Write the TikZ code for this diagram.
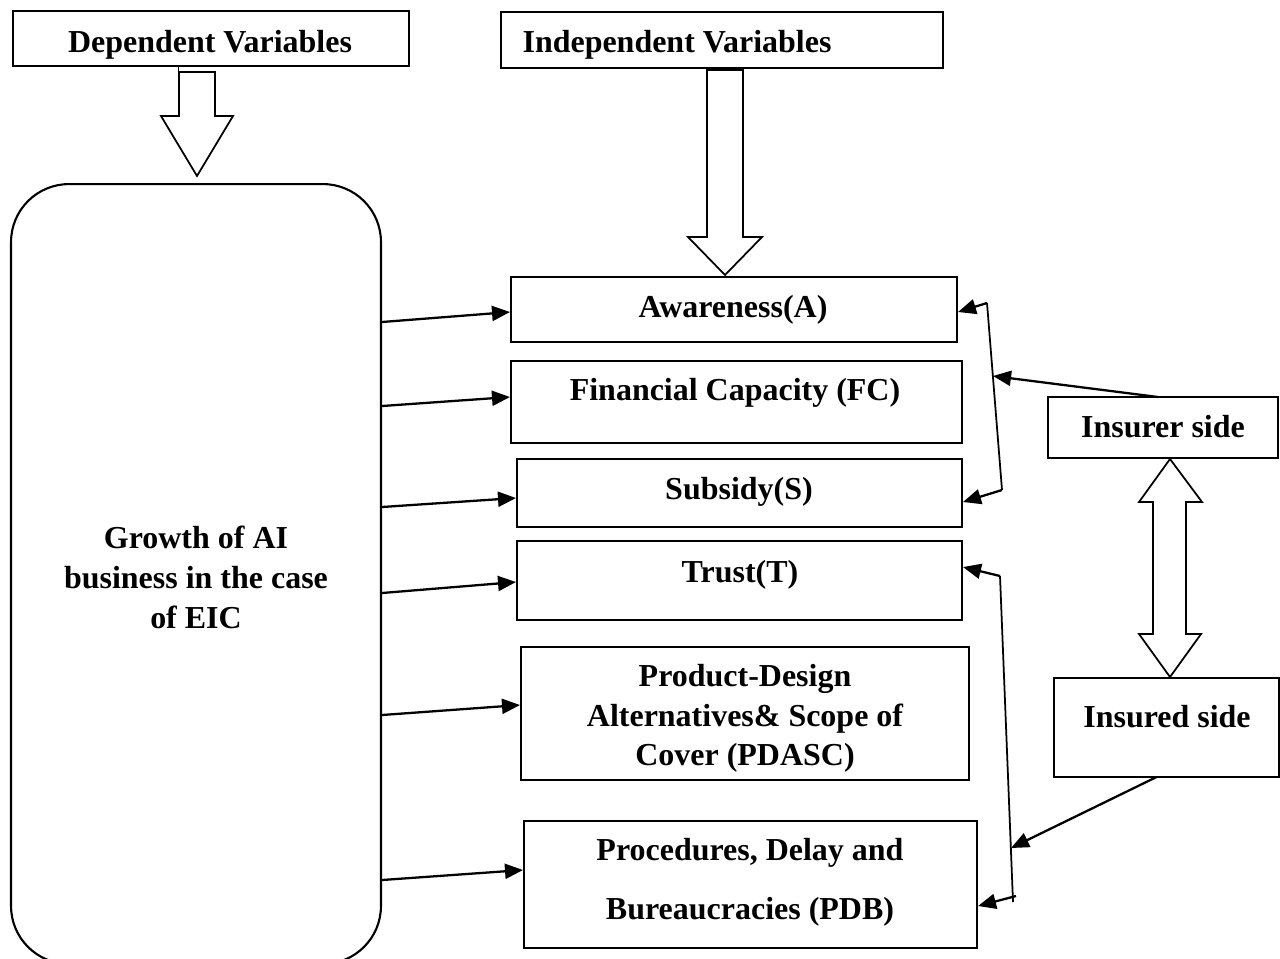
\documentclass[tikz,border=0pt]{standalone}
\usepackage{fontspec}
\setmainfont{Liberation Serif}
\usetikzlibrary{arrows.meta}
\begin{document}
\begin{tikzpicture}[x=0.02cm,y=-0.02cm,
  box/.style={draw,line width=1.2pt,inner sep=0pt,rectangle},
  txt/.style={inner sep=0pt,font=\bfseries\fontsize{18.2}{22.4}\selectfont,align=center},
  conn/.style={line width=1.3pt,-{Triangle[length=0.36cm,width=0.30cm]}},
  plainline/.style={line width=1pt},
  hollow/.style={draw,line width=1pt,fill=white,line join=miter}]
\useasboundingbox (0,0) rectangle (1280,958);

% boxes
\node[box,minimum width=7.92cm,minimum height=1.10cm] (dep) at (211,38.5) {};
\node[box,minimum width=8.84cm,minimum height=1.12cm] (ind) at (722,40) {};
\node[box,rounded corners=1.16cm,minimum width=7.40cm,minimum height=15.60cm] (gr) at (196,574) {};
\node[box,minimum width=8.92cm,minimum height=1.30cm] (aw) at (734,309.5) {};
\node[box,minimum width=9.02cm,minimum height=1.64cm] (fc) at (736.5,402) {};
\node[box,minimum width=8.90cm,minimum height=1.36cm] (sub) at (739.5,493) {};
\node[box,minimum width=8.90cm,minimum height=1.58cm] (tr) at (739.5,580.5) {};
\node[box,minimum width=8.96cm,minimum height=2.66cm] (pd) at (745,713.5) {};
\node[box,minimum width=9.06cm,minimum height=2.54cm] (pdb) at (750.5,884.5) {};
\node[box,minimum width=4.60cm,minimum height=1.22cm] (isr) at (1163,427.5) {};
\node[box,minimum width=4.50cm,minimum height=1.98cm] (isd) at (1166.5,727.5) {};

% texts
\node[txt,anchor=base] (dept) at (210,52) {Dependent Variables};
\node[txt,anchor=base] (indt) at (677,52) {Independent Variables};
\node[txt,anchor=base] (awt) at (733,317) {Awareness(A)};
\node[txt,anchor=base] (fct) at (735,400) {Financial Capacity (FC)};
\node[txt,anchor=base] (subt) at (739,499) {Subsidy(S)};
\node[txt,anchor=base] (trt) at (740,582) {Trust(T)};
\node[txt] (pdt) at (745,718.5) {Product-Design\\Alternatives\& Scope of\\Cover (PDASC)};
\node[txt,font=\bfseries\fontsize{18.2}{33.6}\selectfont] (pdbt) at (750,882.5) {Procedures, Delay and\\Bureaucracies (PDB)};
\node[txt,font=\bfseries\fontsize{18.2}{22.8}\selectfont] (grt) at (196,577) {Growth of AI\\business in the case\\of EIC};
\node[txt,anchor=base] (isrt) at (1163,437) {Insurer side};
\node[txt,anchor=base] (isdt) at (1167,727) {Insured side};

% hollow arrows
\draw[line width=0.5pt] (178,66) -- (178,72);
\draw[hollow] (179,72) -- (215,72) -- (215,116) -- (233,116) -- (197,176)
  -- (161,116) -- (179,116) -- cycle;
\draw[hollow] (707,70) -- (743,70) -- (743,237) -- (762,237) -- (725,275)
  -- (688,237) -- (707,237) -- cycle;
\draw[hollow] (1170,459) -- (1202,502) -- (1186,502) -- (1186,634) -- (1201,634)
  -- (1170,677) -- (1139,634) -- (1153,634) -- (1153,502) -- (1139,502) -- cycle;

% connectors from the dependent box
\draw[conn] (gr.east |- 0,322) -- (aw.west |- 0,312);
\draw[conn] (gr.east |- 0,406) -- (fc.west |- 0,397);
\draw[conn] (gr.east |- 0,507) -- (sub.west |- 0,498);
\draw[conn] (gr.east |- 0,593) -- (tr.west |- 0,582);
\draw[conn] (gr.east |- 0,715) -- (pd.west |- 0,705);
\draw[conn] (gr.east |- 0,880) -- (pdb.west |- 0,870);

% insurer bracket
\coordinate (b1t) at (987,303);
\coordinate (b1b) at (1002,490);
\coordinate (b1m) at (993,376);
\draw[plainline] (b1t) -- (b1b);
\draw[conn] (b1t) -- (aw.east |- 0,312);
\draw[conn] (b1b) -- (sub.east |- 0,502);
\draw[conn] (isr.north |- 0,397) ++(-5,0) -- (b1m);

% insured bracket
\coordinate (b2t) at (1000,576);
\coordinate (b2b) at (1013,897);
\coordinate (b2m) at (1011,848);
\draw[plainline] (b2t) -- (1013,902);
\draw[conn] (b2t) -- (tr.east |- 0,567);
\draw[conn] (1016,896) -- (pdb.east |- 0,906);
\draw[conn] (isd.south |- 0,777) ++(-10,0) -- (b2m);
\end{tikzpicture}
\end{document}
